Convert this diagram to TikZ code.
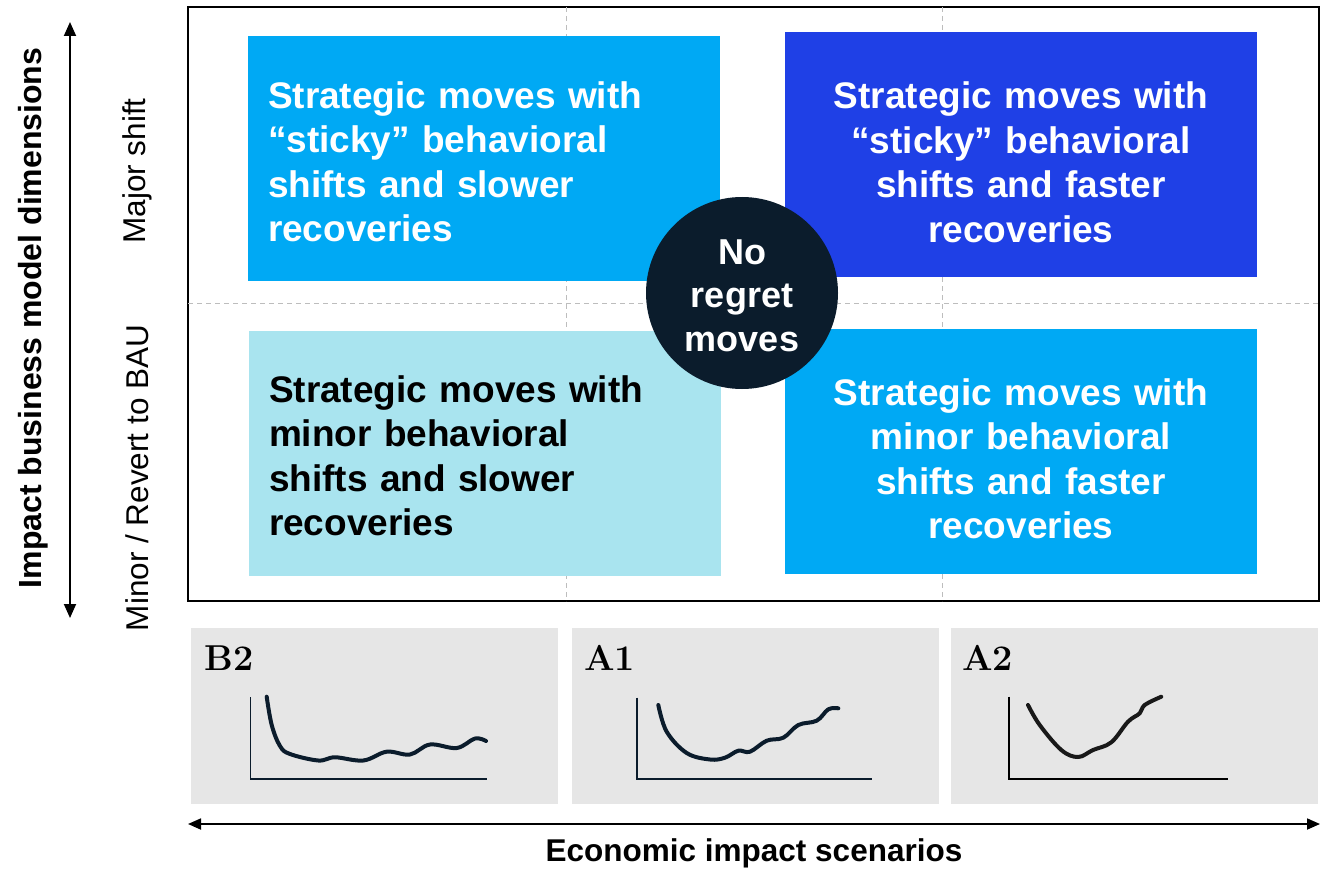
\documentclass[tikz,border=0pt]{standalone}
\usepackage{fontspec}
\newfontfamily\arial{Liberation Sans}
\usetikzlibrary{arrows.meta}
\definecolor{lblue}{HTML}{00A9F4}
\definecolor{dblue}{HTML}{1F40E6}
\definecolor{pcyan}{HTML}{A9E4EF}
\definecolor{navy}{HTML}{0B1C2C}
\definecolor{panelgray}{HTML}{E6E6E6}
\definecolor{dashgray}{HTML}{BDBDBD}
\tikzset{
  quad/.style={minimum width=472pt, minimum height=245pt, inner xsep=20pt, inner ysep=0pt,
    text width=432pt, font=\arial\bfseries\fontsize{37}{44.5}\selectfont},
  qtext/.style={inner xsep=0pt, inner ysep=0pt, text width=432pt, font=\arial\bfseries\fontsize{37}{44.5}\selectfont},
  panel/.style={fill=panelgray, minimum width=367pt, minimum height=176pt, inner sep=0pt},
  plabel/.style={font=\bfseries\fontsize{36}{40}\selectfont, anchor=base west, inner sep=0pt},
  axisline/.style={line width=1.6pt, navy},
  curve/.style={line width=4pt, navy, line cap=round, line join=round},
  bigarrow/.style={line width=1.8pt, {Triangle[length=14pt,width=12pt]}-{Triangle[length=14pt,width=12pt]}},
  axlabel/.style={font=\arial\fontsize{31.5}{36}\selectfont, inner sep=0pt},
}
\begin{document}
\begin{tikzpicture}[x=1pt,y=-1pt]
\useasboundingbox (0,0) rectangle (1327,869);
% frame and dashed grid
\node[draw=black, line width=1.2pt, minimum width=1131pt, minimum height=594pt, inner sep=0pt] (frame) at (753.5,304) {};
\coordinate (v1t) at (566,7); \coordinate (v1b) at (566,601);
\coordinate (v2t) at (942,7); \coordinate (v2b) at (942,601);
\coordinate (hl) at (188,303); \coordinate (hr) at (1319,303);
\draw[dashgray, line width=1pt, dash pattern=on 5pt off 4pt] (v1t) -- (v1b) (v2t) -- (v2b) (hl) -- (hr);
% quadrant boxes
\node[quad, fill=lblue] (tl) at (484,158.5) {};
\node[quad, fill=dblue] (tr) at (1021,154.5) {};
\node[quad, fill=pcyan] (bl) at (485,453) {};
\node[quad, fill=lblue] (br) at (1021,451.5) {};
\node[qtext, text=white, align=left] (tlt) at (484,162)
  {Strategic moves with\\ “sticky” behavioral\\ shifts and slower\\ recoveries};
\node[qtext, text=white, align=center] (trt) at (1021,162.5)
  {Strategic moves with\\ “sticky” behavioral\\ shifts and faster\\ recoveries};
\node[qtext, text=black, align=left] (blt) at (485,456)
  {Strategic moves with\\ minor behavioral\\ shifts and slower\\ recoveries};
\node[qtext, text=white, align=center] (brt) at (1021,459)
  {Strategic moves with\\ minor behavioral\\ shifts and faster\\ recoveries};
% center circle
\node[circle, fill=navy, minimum size=192pt, inner sep=0pt] (nr) at (742,293) {};
\node[text=white, align=center, inner sep=0pt,
  font=\arial\bfseries\fontsize{36}{43.5}\selectfont] (nrt) at (742,295.5) {No\\ regret\\ moves};
% left axis
\coordinate (lat) at (70,22); \coordinate (lab) at (70,618);
\draw[bigarrow] (lab) -- (lat);
\node[axlabel, font=\arial\bfseries\fontsize{32}{36}\selectfont, rotate=90] (ylab) at (33,318) {Impact business model dimensions};
\node[axlabel, rotate=90] (major) at (137,171) {Major shift};
\node[axlabel, rotate=90] (minor) at (137,478) {Minor / Revert to BAU};
% bottom panels
\node[panel] (p1) at (374.5,716) {};
\node[panel] (p2) at (755.5,716) {};
\node[panel] (p3) at (1134,716) {};
\node[plabel] (b2) at (204,670) {B2};
\node[plabel] (a1) at (584,670) {A1};
\node[plabel] (a2) at (962,670) {A2};
% chart B2
\draw[axisline] (250.5,697) -- (250.5,779) -- (487,779);
\draw[curve] plot[smooth, tension=0.6] coordinates {(266.7,696.7) (271.7,725) (280,746) (290,754) (318.3,760.5) (335,757.3) (363.3,760.5) (386.7,751.7) (410,754.5) (430,744.5) (456.7,748) (475,738.5) (486,741)};
% chart A1
\draw[axisline] (636.7,697.7) -- (636.7,779) -- (871.7,779);
\draw[curve] plot[smooth, tension=0.6] coordinates {(658.3,705) (666.7,731.7) (686.7,753) (710,759.5) (725,757.7) (738.3,750.7) (750,751.7) (766.7,740.7) (783.3,737.7) (798.3,725) (816.7,720.7) (828.3,709.3) (838.3,708.3)};
% chart A2
\draw[line width=2.4pt, black] (1008.7,696.7) -- (1008.7,779) -- (1228,779);
\draw[curve, black!90] plot[smooth, tension=0.6] coordinates {(1028,705) (1039.7,725) (1061.3,750) (1078,757) (1093,750) (1111.3,742.3) (1128,721.7) (1139.7,713.3) (1144.7,705) (1161.3,696.7)};
% bottom axis
\coordinate (bal) at (188,824); \coordinate (bar) at (1320,824);
\draw[line width=1.8pt, {Triangle[length=13pt,width=11pt]}-{Triangle[length=13pt,width=11pt]}] (bal) -- (bar);
\node[font=\arial\bfseries\fontsize{31.5}{36}\selectfont, inner sep=0pt] (xlab) at (754,853) {Economic impact scenarios};
\end{tikzpicture}
\end{document}
